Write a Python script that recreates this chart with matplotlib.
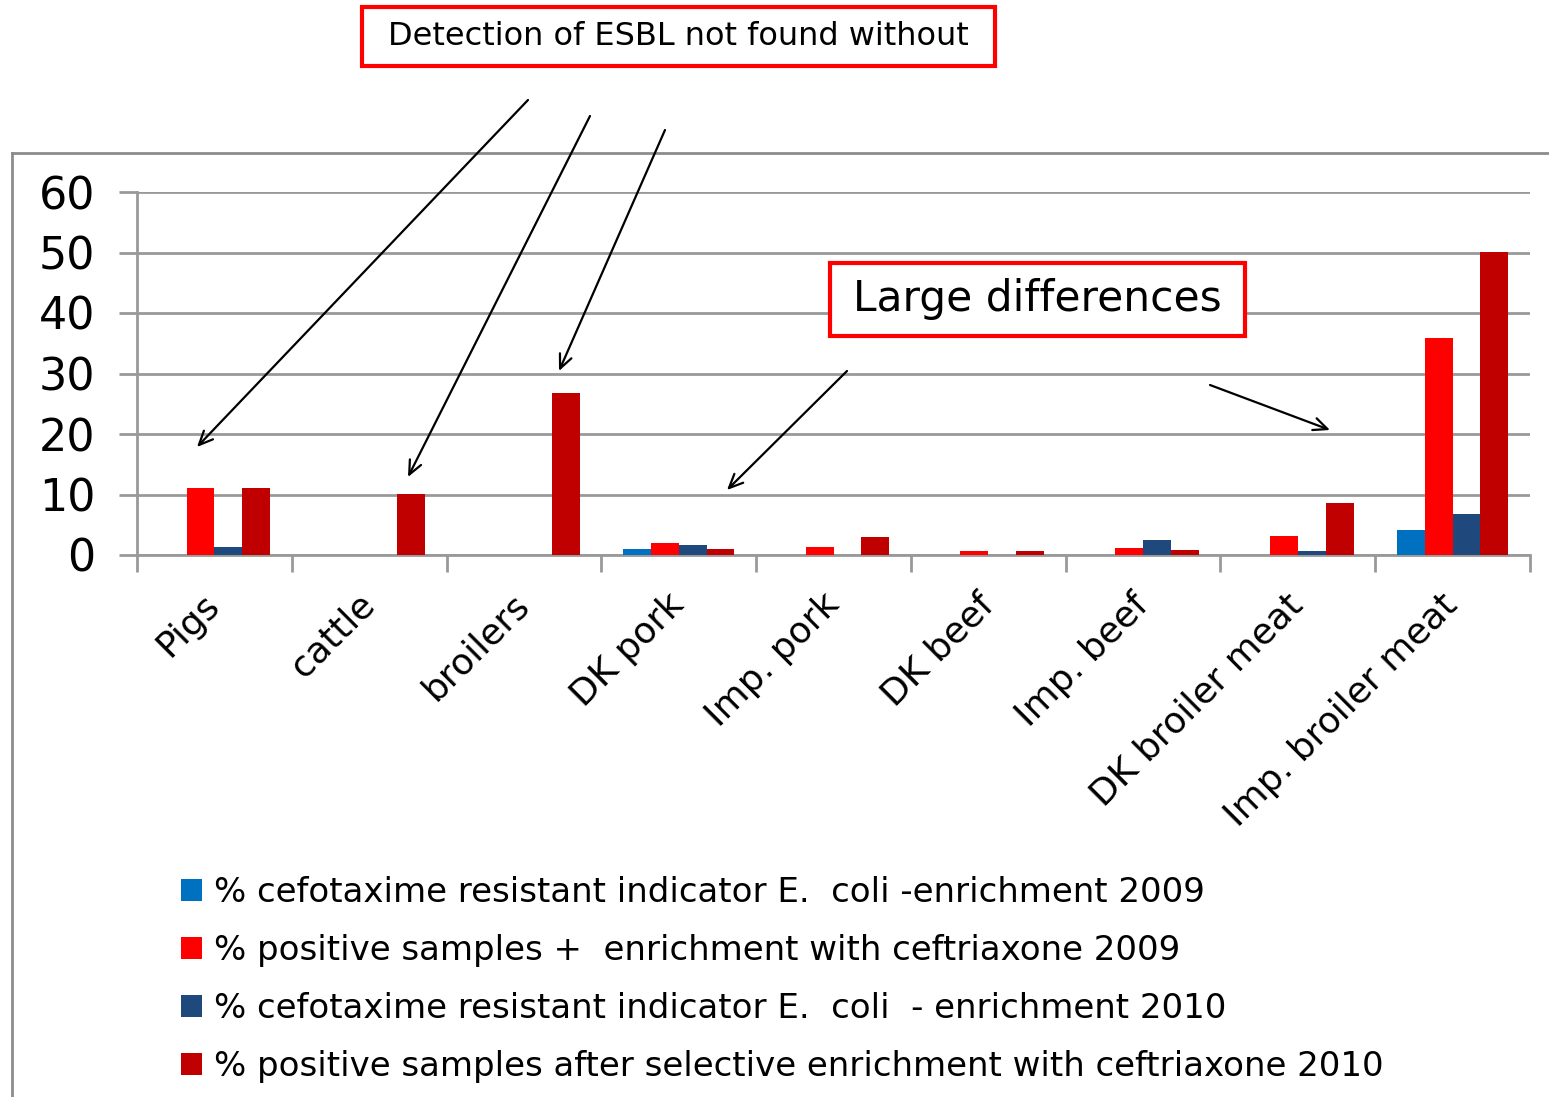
"""Clustered bar chart: ESBL / cefotaxime resistance in animals and meat, 2009 vs 2010."""

import matplotlib

matplotlib.use("Agg")

import matplotlib.pyplot as plt  # noqa: E402
import numpy as np  # noqa: E402
from matplotlib.lines import Line2D  # noqa: E402
from matplotlib.patches import Patch, Rectangle  # noqa: E402

CATEGORIES = ["Pigs", "cattle", "broilers", "DK pork", "Imp. pork", "DK beef",
              "Imp. beef", "DK broiler meat", "Imp. broiler meat"]

CEFO_2009 = [0, 0, 0, 1.0, 0, 0, 0, 0, 4.2]
POS_2009 = [11.0, 0, 0, 2.0, 1.4, 0.7, 1.2, 3.2, 35.8]
CEFO_2010 = [1.4, 0, 0, 1.7, 0, 0, 2.5, 0.6, 6.8]
POS_2010 = [11.0, 10.1, 26.8, 1.0, 3.0, 0.7, 0.9, 8.6, 50.1]

SERIES_LABELS = [
    "% cefotaxime resistant indicator E.  coli -enrichment 2009",
    "% positive samples +  enrichment with ceftriaxone 2009",
    "% cefotaxime resistant indicator E.  coli  - enrichment 2010",
    "% positive samples after selective enrichment with ceftriaxone 2010",
]
COLORS = ["#0070C0", "#FF0000", "#1F497D", "#C00000"]

W, H = 1549, 1097
GRID = "#999999"

fig = plt.figure(figsize=(W / 100, H / 100), dpi=100)
ax = fig.add_axes([137 / W, (H - 555) / H, (1530 - 137) / W, 363 / H])

x = np.arange(len(CATEGORIES))
bw = 0.18
series = [CEFO_2009, POS_2009, CEFO_2010, POS_2010]
for i, (vals, col) in enumerate(zip(series, COLORS)):
    ax.bar(x + (i - 1.5) * bw, vals, width=bw, color=col, linewidth=0, zorder=3)

ax.set_xlim(-0.5, len(CATEGORIES) - 0.5)
ax.set_ylim(0, 60)
ax.set_yticks(range(0, 61, 10))
ax.yaxis.grid(True, color=GRID, linewidth=2, zorder=0)
ax.tick_params(axis="y", length=13, width=2, color=GRID, labelsize=32, pad=17)

# category boundaries carry the tick marks, centres carry the labels
ax.set_xticks(np.arange(-0.5, len(CATEGORIES)), labels=[])
ax.set_xticks(x, labels=CATEGORIES, minor=True)
ax.tick_params(axis="x", which="major", length=12, width=2, color=GRID)
ax.tick_params(axis="x", which="minor", length=0, labelsize=26, pad=32)
for lbl in ax.get_xticklabels(minor=True):
    lbl.set_rotation(45)
    lbl.set_rotation_mode("anchor")
    lbl.set_ha("right")
    lbl.set_va("center")

for side in ("top", "right"):
    ax.spines[side].set_visible(False)
for side in ("left", "bottom"):
    ax.spines[side].set_color(GRID)
    ax.spines[side].set_linewidth(2)

# outer chart-area frame
fig.add_artist(Line2D([12 / W, 1.0], [(H - 153) / H] * 2, color="#8c8c8c", lw=2))
fig.add_artist(Line2D([12 / W] * 2, [(H - 153) / H, 0], color="#8c8c8c", lw=2))

handles = [Patch(facecolor=c, edgecolor="none") for c in COLORS]
fig.legend(handles, SERIES_LABELS, loc="upper left",
           bbox_to_anchor=(164 / W, (H - 859) / H), frameon=False,
           fontsize=24.5, handlelength=0.62, handleheight=0.62,
           handletextpad=0.35, labelspacing=0.73, borderpad=0)


def callout(left, top, right, bottom, text, size):
    """Red-framed text box, given in pixel coordinates from the top-left."""
    fig.add_artist(Rectangle((left / W, (H - bottom) / H),
                             (right - left) / W, (bottom - top) / H,
                             transform=fig.transFigure, facecolor="white",
                             edgecolor="#FF0000", linewidth=3, zorder=5))
    fig.text((left + right) / 2 / W, (H - (top + bottom) / 2) / H, text,
             fontsize=size, ha="center", va="center", zorder=6)


callout(362, 7, 995, 66, "Detection of ESBL not found without", 23)
callout(830, 263, 1245, 336, "Large differences", 30.5)

arrows = [
    ((528, 100), (197, 447)),
    ((590, 116), (408, 477)),
    ((665, 130), (559, 371)),
    ((847, 371), (727, 490)),
    ((1210, 385), (1330, 430)),
]
for (x0, y0), (x1, y1) in arrows:
    fig.add_artist(plt.Annotation(
        "", xy=(x1, H - y1), xytext=(x0, H - y0),
        xycoords="figure pixels", textcoords="figure pixels",
        arrowprops=dict(arrowstyle="->,head_length=1.0,head_width=0.45",
                        color="black", lw=1.6, shrinkA=0, shrinkB=0),
    ))

fig.savefig("out.png", dpi=100)
